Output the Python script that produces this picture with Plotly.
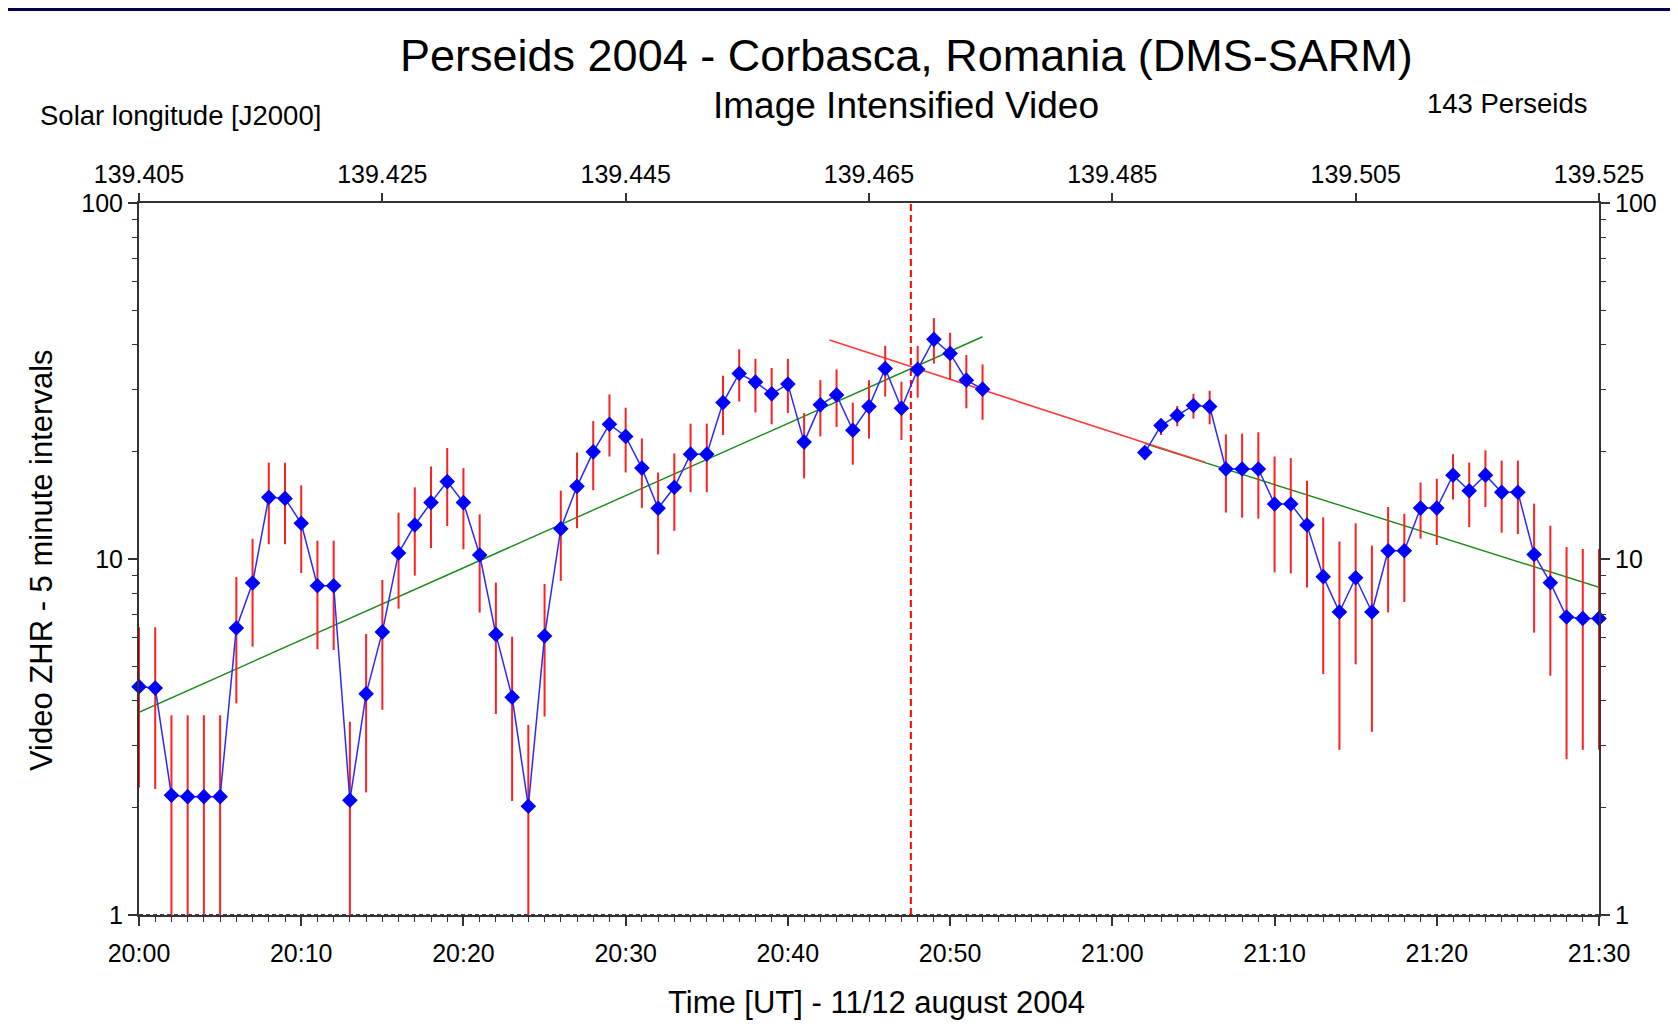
import math
import plotly.graph_objects as go

# ---------------- data ----------------
# minutes after 20:00 UT (5-minute sliding intervals, 1-minute step)
minutes = list(range(0, 53)) + list(range(62, 91))
zhr = [4.38, 4.34, 2.17, 2.15, 2.15, 2.15, 6.4, 8.56, 14.9, 14.8,
       12.6, 8.41, 8.41, 2.10, 4.18, 6.24, 10.4, 12.46, 14.4, 16.5,
       14.4, 10.26, 6.14, 4.09, 2.02, 6.08, 12.17, 16.0, 20.0, 23.9,
       22.1, 18.0, 13.88, 15.9, 19.7, 19.7, 27.5, 33.2, 31.4, 29.1,
       31.0, 21.3, 27.1, 28.9, 23.0, 26.8, 34.3, 26.5, 34.1, 41.4,
       37.8, 31.8, 30.0,
       19.9, 23.7, 25.3, 27.0, 26.8, 17.9, 17.9, 17.9, 14.27, 14.27,
       12.46, 8.92, 7.10, 8.86, 7.10, 10.55, 10.55, 13.9, 13.9, 17.2,
       15.55, 17.2, 15.4, 15.4, 10.3, 8.58, 6.87, 6.81, 6.81]
zhr_low = [2.28, 2.26, 1.0, 1.0, 1.0, 1.0, 3.93, 5.67, 11.0, 11.0,
           9.13, 5.58, 5.55, 1.0, 2.21, 3.77, 7.25, 8.98, 10.74, 12.38,
           10.65, 7.07, 3.67, 2.09, 1.0, 3.61, 8.68, 12.2, 15.6, 19.4,
           17.5, 13.9, 10.3, 12.0, 15.4, 15.4, 22.3, 27.7, 25.8, 23.9,
           25.7, 16.85, 22.1, 23.5, 18.4, 21.8, 28.6, 21.6, 28.4, 35.4,
           31.8, 26.5, 24.6,
           19.9, 22.3, 23.6, 24.8, 23.9, 13.5, 13.06, 12.98, 9.17, 9.11,
           8.31, 4.75, 2.91, 5.06, 3.27, 7.08, 7.57, 11.4, 10.95, 14.7,
           12.3, 14.0, 11.86, 11.75, 6.21, 4.70, 2.74, 2.91, 2.91]
zhr_high = [6.43, 6.43, 3.64, 3.64, 3.64, 3.64, 8.9, 11.4, 18.65, 18.65,
            16.1, 11.26, 11.26, 3.49, 6.16, 8.73, 13.49, 15.9, 18.2, 20.5,
            18.0, 13.35, 8.58, 6.05, 3.42, 8.51, 15.56, 19.9, 24.4, 29.0,
            26.6, 21.8, 17.5, 19.8, 24.0, 24.0, 32.7, 38.8, 36.5, 34.4,
            36.5, 25.7, 31.8, 34.1, 27.5, 31.8, 39.7, 31.5, 39.7, 47.5,
            43.2, 37.4, 35.2,
            19.9, 24.7, 26.9, 29.1, 29.7, 22.4, 22.5, 22.7, 19.4, 19.2,
            16.6, 13.1, 11.2, 12.6, 10.9, 14.0, 13.4, 16.4, 16.8, 19.7,
            18.65, 20.2, 18.9, 18.9, 14.3, 12.4, 10.8, 10.67, 10.67]

# fitted trends (start/end)
rise_fit_min = [0, 52]
rise_fit_zhr = [3.71, 42.1]
fall_fit_min = [42.56, 65.7]
fall_fit_zhr = [41.2, 18.7]
late_fit_min = [62, 90]
late_fit_zhr = [21.1, 8.33]

peak_minute = 47.58        # vertical dashed marker (peak time)
ref_level = 10             # horizontal dotted reference level

time_tick_min = [0, 10, 20, 30, 40, 50, 60, 70, 80, 90]
time_tick_text = ["20:00", "20:10", "20:20", "20:30", "20:40", "20:50",
                  "21:00", "21:10", "21:20", "21:30"]
sol_range = [139.405, 139.525]
sol_ticks = [139.405, 139.425, 139.445, 139.465, 139.485, 139.505, 139.525]
y_ticks = [1, 10, 100]
y_minor = [2, 3, 4, 5, 6, 7, 8, 9, 20, 30, 40, 50, 60, 70, 80, 90]

# ---------------- figure ----------------
OFF = 8                      # page margin added by the browser
W, H = 1678 - OFF, 1031 - OFF
L, R, T, B = 131, 79, 195, 116
PW, PH = W - L - R, H - T - B
FONT = "Liberation Sans, Arial, sans-serif"
NAVY = "#000050"
AXC = "#333333"


def px(x):          # page pixel -> paper
    return (x - OFF - L) / PW


def py(y):          # page pixel -> paper
    return (H - B - (y - OFF)) / PH


# build a gapped series (None where no data)
xs, ys, lo, hi = [], [], [], []
prev = None
for m, v, l, h in zip(minutes, zhr, zhr_low, zhr_high):
    if prev is not None and m - prev > 1:
        xs.append(None); ys.append(None); lo.append(None); hi.append(None)
    xs.append(m); ys.append(v); lo.append(v - l); hi.append(h - v)
    prev = m

fig = go.Figure()

fig.add_trace(go.Scatter(x=rise_fit_min, y=rise_fit_zhr, mode="lines",
                         line=dict(color="#1a8a1a", width=1.4),
                         hoverinfo="skip", showlegend=False))
fig.add_trace(go.Scatter(x=late_fit_min, y=late_fit_zhr, mode="lines",
                         line=dict(color="#1a8a1a", width=1.4),
                         hoverinfo="skip", showlegend=False))
fig.add_trace(go.Scatter(x=fall_fit_min, y=fall_fit_zhr, mode="lines",
                         line=dict(color="#ff3a3a", width=1.6),
                         hoverinfo="skip", showlegend=False))

fig.add_trace(go.Scatter(
    x=xs, y=ys, mode="lines+markers",
    line=dict(color="#2a2aff", width=1.5),
    marker=dict(symbol="diamond", size=12, color="#0000ff",
                line=dict(width=0)),
    error_y=dict(type="data", symmetric=False, array=hi, arrayminus=lo,
                 color="#ff2020", thickness=2, width=0),
    connectgaps=False, cliponaxis=False, showlegend=False))

# secondary axes (top solar longitude, right ZHR)
fig.add_trace(go.Scatter(x=sol_range, y=[None, None], xaxis="x2", yaxis="y2",
                         mode="lines", showlegend=False, hoverinfo="skip"))

axis_font = dict(family=FONT, size=25, color="black")

fig.update_layout(
    width=W, height=H,
    margin=dict(l=L, r=R, t=T, b=B, pad=0),
    paper_bgcolor="white", plot_bgcolor="white",
    font=dict(family=FONT, color="black"),
    showlegend=False,
    xaxis=dict(range=[0, 90], tickmode="array", tickvals=time_tick_min,
               ticktext=time_tick_text, ticks="outside", ticklen=9,
               tickwidth=1.5, tickcolor=AXC, showline=True, linecolor=AXC,
               linewidth=2, showgrid=False, zeroline=False,
               tickfont=axis_font, ticklabelstandoff=6,
               minor=dict(dtick=1, tick0=0, ticks="outside", ticklen=5,
                          tickwidth=1.2, tickcolor=AXC, showgrid=False)),
    xaxis2=dict(range=sol_range, overlaying="x", side="top", anchor="y2",
                tickmode="array", tickvals=sol_ticks,
                ticktext=["%.3f" % t for t in sol_ticks],
                ticks="outside", ticklen=8, tickwidth=1.5, tickcolor=AXC,
                showline=True, linecolor=AXC, linewidth=2, showgrid=False,
                zeroline=False, tickfont=axis_font),
    yaxis=dict(type="log", range=[0, 2], tickmode="array", tickvals=y_ticks,
               ticktext=[str(t) for t in y_ticks], ticks="outside", ticklen=9,
               tickwidth=1.5, tickcolor=AXC, showline=True, linecolor=AXC,
               linewidth=2, showgrid=False, zeroline=False, tickfont=axis_font,
               minor=dict(tickvals=y_minor, ticks="outside", ticklen=5,
                          tickwidth=1.2, tickcolor=AXC, showgrid=False)),
    yaxis2=dict(type="log", range=[0, 2], overlaying="y", side="right",
                anchor="x2", tickmode="array", tickvals=y_ticks,
                ticktext=[str(t) for t in y_ticks], ticks="outside",
                ticklen=9, tickwidth=1.5, tickcolor=AXC, showline=True,
                linecolor=AXC, linewidth=2, showgrid=False, zeroline=False,
                tickfont=axis_font,
                minor=dict(tickvals=y_minor, ticks="outside", ticklen=5,
                           tickwidth=1.2, tickcolor=AXC, showgrid=False)),
)

shapes = [
    # navy slide frame (top strip)
    dict(type="rect", xref="paper", yref="paper", x0=px(0), x1=px(1700),
         y0=py(11), y1=py(-5), fillcolor=NAVY, line=dict(width=0),
         layer="above"),
    # reference level
    dict(type="line", xref="paper", yref="y", x0=0, x1=1,
         y0=math.log10(ref_level), y1=math.log10(ref_level),
         line=dict(color="black", width=1.3, dash="4px,3px"), layer="below"),
    # peak time marker
    dict(type="line", xref="x", yref="paper", x0=peak_minute, x1=peak_minute,
         y0=0, y1=1, line=dict(color="#ff0000", width=2, dash="7px,4px"),
         layer="below"),
]
fig.update_layout(shapes=shapes)

ann = [
    dict(text="Perseids 2004 - Corbasca, Romania (DMS-SARM)", x=px(906.5),
         y=py(55.6), xanchor="center", yanchor="middle",
         font=dict(family=FONT, size=45, color="black")),
    dict(text="Image Intensified Video", x=px(906), y=py(105),
         xanchor="center", yanchor="middle",
         font=dict(family=FONT, size=37, color="black")),
    dict(text="Solar longitude [J2000]", x=px(37.5), y=py(115.6),
         xanchor="left", yanchor="middle",
         font=dict(family=FONT, size=27.5, color="black")),
    dict(text="143 Perseids", x=px(1590), y=py(103.8),
         xanchor="right", yanchor="middle",
         font=dict(family=FONT, size=27.5, color="black")),
    dict(text="Time [UT] - 11/12 august 2004", x=px(876.5), y=py(1002.8),
         xanchor="center", yanchor="middle",
         font=dict(family=FONT, size=31, color="black")),
    dict(text="Video ZHR - 5 minute intervals", x=px(41), y=py(560),
         xanchor="center", yanchor="middle", textangle=-90,
         font=dict(family=FONT, size=31, color="black")),
]
for a in ann:
    a.update(xref="paper", yref="paper", showarrow=False)
fig.update_layout(annotations=ann)

fig.write_html("out.html")
